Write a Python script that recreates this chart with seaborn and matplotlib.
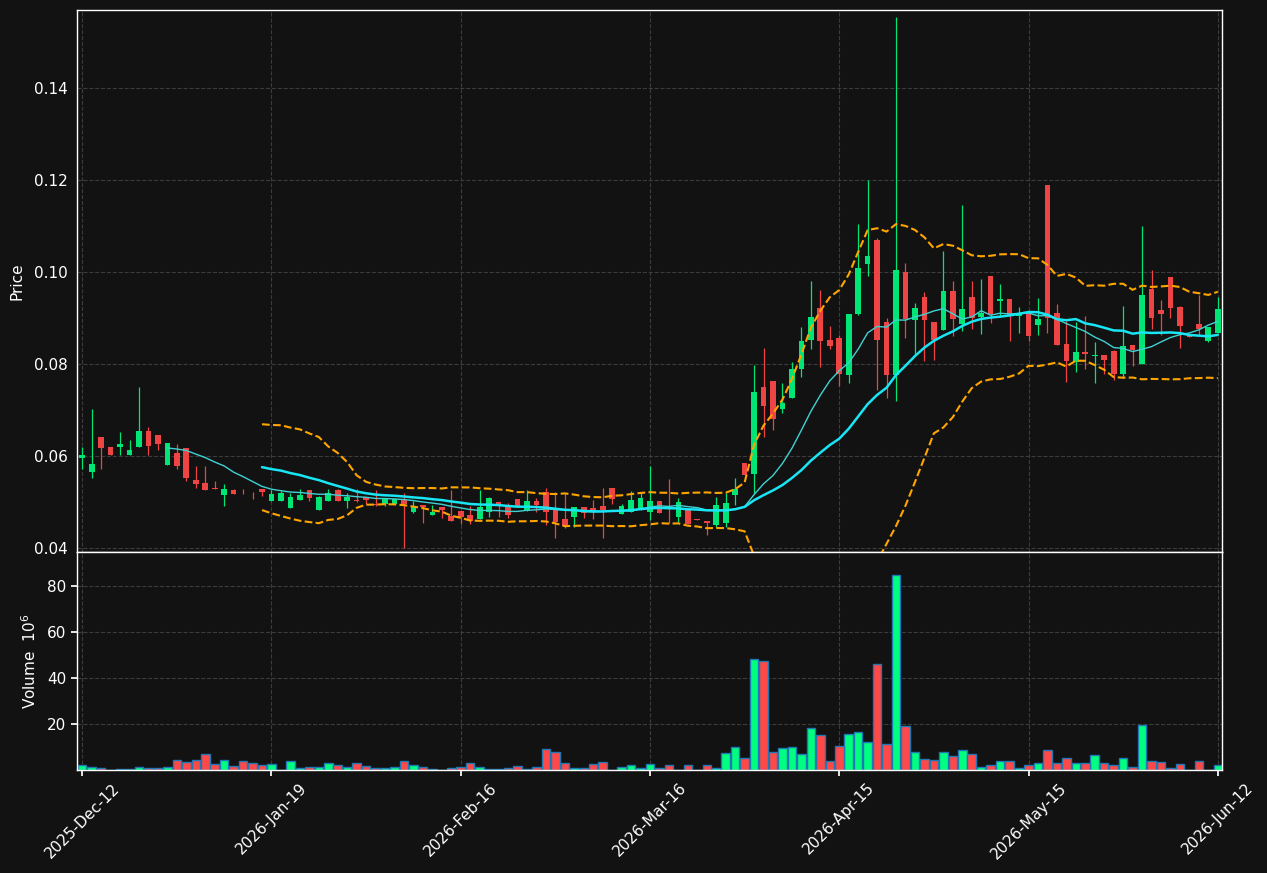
import numpy as np
import pandas as pd
import matplotlib
matplotlib.use("Agg")
import matplotlib.pyplot as plt
import seaborn as sns

# OHLC, one candle per trading session (index based x axis)
opens = [0.0596, 0.0566, 0.0641, 0.0620, 0.0620, 0.0601, 0.0620, 0.0654, 0.0646, 0.0580,
         0.0607, 0.0617, 0.0548, 0.0542, 0.0531, 0.0514, 0.0525, 0.0526, 0.0522, 0.0528,
         0.0501, 0.0501, 0.0486, 0.0504, 0.0526, 0.0483, 0.0501, 0.0526, 0.0502, 0.0503,
         0.0510, 0.0495, 0.0496, 0.0496, 0.0504, 0.0478, 0.0494, 0.0472, 0.0488, 0.0470,
         0.0480, 0.0472, 0.0462, 0.0479, 0.0500, 0.0491, 0.0507, 0.0481, 0.0502, 0.0522,
         0.0483, 0.0463, 0.0468, 0.0488, 0.0487, 0.0491, 0.0530, 0.0474, 0.0479, 0.0483,
         0.0479, 0.0502, 0.0476, 0.0468, 0.0483, 0.0462, 0.0459, 0.0449, 0.0455, 0.0516,
         0.0584, 0.0560, 0.0751, 0.0763, 0.0703, 0.0725, 0.0790, 0.0852, 0.0922, 0.0853,
         0.0857, 0.0777, 0.0909, 0.1017, 0.1070, 0.0891, 0.0776, 0.1000, 0.0896, 0.0946,
         0.0891, 0.0874, 0.0958, 0.0886, 0.0946, 0.0902, 0.0992, 0.0936, 0.0941, 0.0905,
         0.0911, 0.0884, 0.1190, 0.0911, 0.0844, 0.0804, 0.0827, 0.0817, 0.0820, 0.0829,
         0.0778, 0.0842, 0.0801, 0.0964, 0.0918, 0.0990, 0.0925, 0.0860, 0.0886, 0.0849,
         0.0867]
highs = [0.0619, 0.0702, 0.0641, 0.0620, 0.0652, 0.0635, 0.0749, 0.0662, 0.0646, 0.0628,
         0.0626, 0.0617, 0.0577, 0.0577, 0.0545, 0.0538, 0.0528, 0.0529, 0.0522, 0.0528,
         0.0525, 0.0523, 0.0520, 0.0528, 0.0526, 0.0513, 0.0528, 0.0528, 0.0519, 0.0528,
         0.0510, 0.0526, 0.0507, 0.0507, 0.0519, 0.0502, 0.0494, 0.0493, 0.0488, 0.0526,
         0.0480, 0.0492, 0.0525, 0.0510, 0.0500, 0.0497, 0.0507, 0.0525, 0.0508, 0.0530,
         0.0521, 0.0519, 0.0488, 0.0488, 0.0504, 0.0531, 0.0530, 0.0495, 0.0524, 0.0520,
         0.0579, 0.0502, 0.0549, 0.0508, 0.0483, 0.0462, 0.0459, 0.0510, 0.0519, 0.0552,
         0.0584, 0.0798, 0.0834, 0.0763, 0.0758, 0.0805, 0.0881, 0.0980, 0.0962, 0.0883,
         0.0863, 0.0909, 0.1104, 0.1200, 0.1073, 0.0899, 0.1554, 0.1019, 0.0933, 0.0956,
         0.0891, 0.1046, 0.0980, 0.1146, 0.0980, 0.0984, 0.0992, 0.0975, 0.0941, 0.0925,
         0.0911, 0.0943, 0.1190, 0.0930, 0.0894, 0.0891, 0.0905, 0.0847, 0.0820, 0.0831,
         0.0927, 0.0842, 0.1100, 0.1005, 0.0940, 0.0990, 0.0927, 0.0860, 0.0950, 0.0881,
         0.0946]
lows = [0.0571, 0.0552, 0.0571, 0.0601, 0.0602, 0.0601, 0.0620, 0.0602, 0.0612, 0.0580,
        0.0571, 0.0546, 0.0531, 0.0525, 0.0529, 0.0490, 0.0518, 0.0518, 0.0506, 0.0512,
        0.0501, 0.0501, 0.0486, 0.0504, 0.0501, 0.0483, 0.0501, 0.0502, 0.0487, 0.0499,
        0.0496, 0.0491, 0.0490, 0.0496, 0.0399, 0.0475, 0.0455, 0.0472, 0.0464, 0.0459,
        0.0452, 0.0451, 0.0462, 0.0467, 0.0468, 0.0464, 0.0488, 0.0481, 0.0479, 0.0449,
        0.0421, 0.0444, 0.0445, 0.0466, 0.0463, 0.0421, 0.0495, 0.0474, 0.0479, 0.0483,
        0.0461, 0.0475, 0.0454, 0.0457, 0.0452, 0.0461, 0.0428, 0.0446, 0.0446, 0.0494,
        0.0559, 0.0519, 0.0642, 0.0657, 0.0693, 0.0725, 0.0771, 0.0833, 0.0793, 0.0832,
        0.0752, 0.0759, 0.0906, 0.0992, 0.0744, 0.0725, 0.0720, 0.0857, 0.0819, 0.0806,
        0.0809, 0.0874, 0.0861, 0.0871, 0.0876, 0.0865, 0.0890, 0.0904, 0.0850, 0.0868,
        0.0851, 0.0862, 0.0867, 0.0841, 0.0761, 0.0782, 0.0789, 0.0759, 0.0778, 0.0766,
        0.0770, 0.0796, 0.0801, 0.0876, 0.0863, 0.0900, 0.0835, 0.0858, 0.0862, 0.0847,
        0.0867]
closes = [0.0602, 0.0583, 0.0618, 0.0601, 0.0626, 0.0613, 0.0654, 0.0622, 0.0627, 0.0628,
          0.0578, 0.0552, 0.0539, 0.0525, 0.0529, 0.0528, 0.0518, 0.0525, 0.0521, 0.0522,
          0.0517, 0.0519, 0.0510, 0.0515, 0.0509, 0.0510, 0.0519, 0.0502, 0.0510, 0.0502,
          0.0504, 0.0494, 0.0507, 0.0507, 0.0496, 0.0488, 0.0488, 0.0478, 0.0483, 0.0459,
          0.0468, 0.0459, 0.0488, 0.0508, 0.0490, 0.0472, 0.0488, 0.0502, 0.0494, 0.0477,
          0.0457, 0.0448, 0.0488, 0.0475, 0.0480, 0.0483, 0.0507, 0.0492, 0.0504, 0.0508,
          0.0502, 0.0475, 0.0475, 0.0499, 0.0452, 0.0461, 0.0455, 0.0494, 0.0498, 0.0528,
          0.0559, 0.0738, 0.0709, 0.0681, 0.0715, 0.0789, 0.0850, 0.0902, 0.0851, 0.0840,
          0.0779, 0.0909, 0.1008, 0.1035, 0.0853, 0.0776, 0.1005, 0.0898, 0.0921, 0.0896,
          0.0853, 0.0958, 0.0898, 0.0920, 0.0899, 0.0910, 0.0909, 0.0941, 0.0904, 0.0910,
          0.0860, 0.0898, 0.0901, 0.0841, 0.0806, 0.0825, 0.0821, 0.0820, 0.0808, 0.0778,
          0.0840, 0.0830, 0.0951, 0.0899, 0.0908, 0.0921, 0.0882, 0.0858, 0.0876, 0.0881,
          0.0920]
# volume in millions
volume = [2.0, 1.15, 0.7, 0.2, 0.4, 0.4, 1.15, 0.7, 0.7, 1.15,
          4.3, 3.45, 4.3, 6.9, 2.6, 4.3, 1.6, 3.9, 3.0, 2.2,
          2.6, 0.1, 3.9, 0.7, 1.15, 1.15, 3.0, 2.2, 1.15, 3.0,
          1.6, 0.7, 0.7, 1.15, 3.9, 2.0, 1.15, 0.4, 0.1, 0.7,
          1.3, 3.0, 1.3, 0.4, 0.4, 0.85, 1.7, 0.3, 1.3, 9.1,
          7.8, 3.0, 0.85, 0.85, 2.6, 3.45, 0.2, 1.3, 2.2, 0.85,
          2.6, 0.85, 2.2, 0.2, 2.2, 0.1, 2.2, 0.85, 7.3, 9.9,
          5.2, 48.3, 47.5, 7.8, 9.5, 9.9, 6.9, 18.1, 15.1, 4.0,
          10.4, 15.5, 16.4, 12.1, 46.2, 11.2, 85.0, 19.0, 7.8, 4.7,
          4.3, 7.8, 6.0, 8.6, 6.9, 1.3, 2.2, 3.9, 3.9, 0.85,
          2.2, 3.0, 8.6, 3.0, 5.2, 3.0, 3.0, 6.5, 3.0, 2.2,
          5.2, 1.3, 19.4, 3.9, 3.45, 0.85, 2.6, 0.1, 3.9, 0.1,
          2.2]
tick_labels = ["2025-Dec-12", "2026-Jan-19", "2026-Feb-16", "2026-Mar-16",
               "2026-Apr-15", "2026-May-15", "2026-Jun-12"]

bg = "#121212"
up_c, down_c = "#00e676", "#ef4444"
vol_up, vol_down = "#00ff80", "#ff4848"

df = pd.DataFrame({"open": opens, "high": highs, "low": lows,
                   "close": closes, "volume": volume})
df["i"] = np.arange(len(df))
df["dir"] = np.where(df["close"] >= df["open"], "up", "down")
df["ma10"] = df["close"].rolling(10).mean()
df["ma20"] = df["close"].rolling(20).mean()
sd = df["close"].rolling(20).std()
df["bb_up"] = df["ma20"] + 2 * sd
df["bb_lo"] = df["ma20"] - 2 * sd

sns.set_theme(style="dark", rc={
    "axes.facecolor": bg, "figure.facecolor": bg,
    "axes.edgecolor": "white", "axes.labelcolor": "white",
    "xtick.color": "white", "ytick.color": "white",
    "text.color": "white", "grid.color": "#3c3c3c",
    "grid.linestyle": "--", "grid.linewidth": 0.8,
})
plt.rcParams["font.family"] = ["DejaVu Sans"]

fig = plt.figure(figsize=(12.67, 8.73), dpi=100)
ax = fig.add_axes([0.0608, 0.3677, 0.9037, 0.6208])
axv = fig.add_axes([0.0608, 0.118, 0.9037, 0.2497], sharex=ax)

cols = [up_c if d == "up" else down_c for d in df["dir"]]

# candles
ax.vlines(df["i"], df["low"], df["high"], colors=cols, linewidth=0.9, zorder=2)
body = (df["close"] - df["open"]).abs().clip(lower=0.00012)
ax.bar(df["i"], body, bottom=df[["open", "close"]].min(axis=1),
       width=0.6, color=cols, linewidth=0, zorder=3)

# moving averages and bands
sns.lineplot(data=df, x="i", y="ma10", ax=ax, color="#3fd2d2", linewidth=1.0, zorder=4)
sns.lineplot(data=df, x="i", y="ma20", ax=ax, color="#18e6f5", linewidth=1.8, zorder=4)
sns.lineplot(data=df, x="i", y="bb_up", ax=ax, color="#ffa500", linewidth=1.5,
             linestyle="--", zorder=4)
sns.lineplot(data=df, x="i", y="bb_lo", ax=ax, color="#ffa500", linewidth=1.5,
             linestyle="--", zorder=4)

# volume
sns.barplot(data=df, x="i", y="volume", hue="dir", ax=axv, native_scale=True,
            palette={"up": vol_up, "down": vol_down}, dodge=False, width=0.9,
            edgecolor="#1f77b4", linewidth=1.0, errorbar=None, legend=False,
            saturation=1)

ax.set_xlim(-0.55, 120.45)
ax.set_ylim(0.0391, 0.157)
axv.set_ylim(0, 94.8)
ax.set_yticks([0.04, 0.06, 0.08, 0.10, 0.12, 0.14])
ax.set_yticklabels([f"{v:.2f}" for v in ax.get_yticks()])
axv.set_yticks([20, 40, 60, 80])
axv.set_xticks(np.arange(0, len(df), 20))
axv.set_xticklabels(tick_labels, rotation=45, ha="center")
ax.tick_params(axis="x", labelbottom=False, length=0)
ax.tick_params(axis="y", labelsize=11, length=3)
axv.tick_params(axis="both", labelsize=11, length=4, bottom=True, left=True)

ax.set_xlabel("")
axv.set_xlabel("")
ax.set_ylabel("Price", fontsize=11)
axv.set_ylabel(r"Volume  $10^6$", fontsize=11)
ax.yaxis.set_label_coords(-0.0455, 0.5)
axv.yaxis.set_label_coords(-0.0335, 0.5)

for a in (ax, axv):
    a.grid(True, axis="both")
    a.set_axisbelow(True)
    for s in a.spines.values():
        s.set_color("white")
        s.set_linewidth(1.0)

fig.savefig("out.png", dpi=100, facecolor=bg)
